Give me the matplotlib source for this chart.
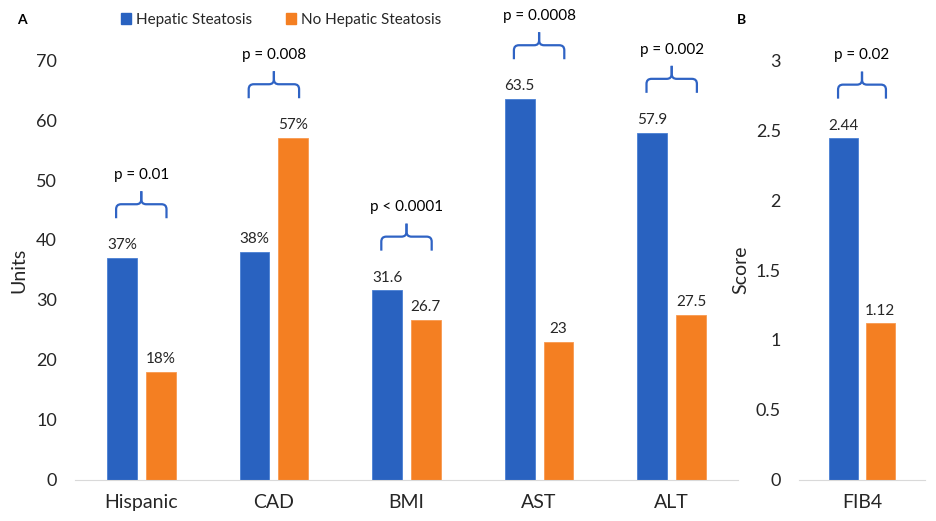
import matplotlib
matplotlib.use("Agg")
import matplotlib.pyplot as plt
from matplotlib.path import Path
from matplotlib.patches import PathPatch, Patch
import numpy as np

plt.rcParams['font.family'] = ['Lato', 'DejaVu Sans']

# Data
categories = ["Hispanic", "CAD", "BMI", "AST", "ALT"]
hs_vals = [37, 38, 31.6, 63.5, 57.9]
no_hs_vals = [18, 57, 26.7, 23, 27.5]
hs_labels = ["37%", "38%", "31.6", "63.5", "57.9"]
no_hs_labels = ["18%", "57%", "26.7", "23", "27.5"]
p_labels = ["p = 0.01", "p = 0.008", "p < 0.0001", "p = 0.0008", "p = 0.002"]

fib_cat = ["FIB4"]
fib_hs = [2.44]
fib_no_hs = [1.12]
fib_hs_labels = ["2.44"]
fib_no_hs_labels = ["1.12"]
fib_p = ["p = 0.02"]

blue = "#2962C0"
orange = "#F47F22"
brace_col = "#2F63C4"
txt_col = "#262626"

W, H, DPI = 937, 521, 100
fig = plt.figure(figsize=(W / DPI, H / DPI), dpi=DPI)

axA = fig.add_axes([75 / W, 41 / H, 663 / W, 420 / H])
axB = fig.add_axes([799 / W, 41 / H, 126 / W, 420 / H])


def brace(ax, xc, y, half):
    # draw an over-brace with rounded corners; sizes in pixels
    pos = ax.get_position()
    x0, x1 = ax.get_xlim()
    y0, y1 = ax.get_ylim()
    ppx = (x1 - x0) / (pos.width * W)
    ppy = (y1 - y0) / (pos.height * H)
    r = 5
    for s in (-1, 1):
        xe = xc + s * half
        verts = [(xe, y - 14 * ppy), (xe, y - r * ppy), (xe, y), (xe - s * r * ppx, y),
                 (xc + s * r * ppx, y), (xc, y), (xc, y + r * ppy), (xc, y + 13 * ppy)]
        codes = [Path.MOVETO, Path.LINETO, Path.CURVE3, Path.CURVE3,
                 Path.LINETO, Path.CURVE3, Path.CURVE3, Path.LINETO]
        ax.add_patch(PathPatch(Path(verts, codes), fill=False, ec=brace_col,
                               lw=1.6, clip_on=False))


def draw_panel(ax, cats, a, b, la, lb, plabs, ymax, step, ylab):
    x = np.arange(len(cats))
    w = 0.224
    off = 0.146
    ax.set_xlim(-0.5, len(cats) - 0.5)
    ax.set_ylim(0, ymax)
    ax.bar(x - off, a, w, color=blue, edgecolor="#4a7fd4", linewidth=0.6)
    ax.bar(x + off, b, w, color=orange, edgecolor="#f89a50", linewidth=0.6)
    for xi, v, t in zip(x - off, a, la):
        ax.annotate(t, (xi, v), xytext=(0, 4), textcoords="offset points",
                    ha="center", va="bottom", fontsize=11, color=txt_col)
    for xi, v, t in zip(x + off, b, lb):
        ax.annotate(t, (xi, v), xytext=(0, 4), textcoords="offset points",
                    ha="center", va="bottom", fontsize=11, color=txt_col)
    for xi, va_, vb, p in zip(x, a, b, plabs):
        yb = max(va_, vb) + 0.128 * ymax
        brace(ax, xi, yb, 0.19)
        ax.annotate(p, (xi, yb), xytext=(0, 16), textcoords="offset points",
                    ha="center", va="bottom", fontsize=11, color="black",
                    annotation_clip=False)
    ax.set_xticks(x)
    ax.set_xticklabels(cats, fontsize=14, color=txt_col)
    ax.set_yticks(np.arange(0, ymax + step / 2, step))
    ax.set_yticklabels([f"{v:g}" for v in np.arange(0, ymax + step / 2, step)],
                       fontsize=13, color=txt_col)
    ax.tick_params(axis="y", length=0, pad=13)
    ax.tick_params(axis="x", length=0, pad=10)
    for s in ["top", "right", "left"]:
        ax.spines[s].set_visible(False)
    ax.spines["bottom"].set_color("#d9d9d9")
    ax.set_ylabel(ylab, fontsize=14, color=txt_col)


draw_panel(axA, categories, hs_vals, no_hs_vals, hs_labels, no_hs_labels,
           p_labels, 70, 10, "Units")
draw_panel(axB, fib_cat, fib_hs, fib_no_hs, fib_hs_labels, fib_no_hs_labels,
           fib_p, 3, 0.5, "Score")
axA.yaxis.set_label_coords(-48 / 663, 0.5)
axB.yaxis.set_label_coords(-50 / 126, 0.5)

fig.text(22 / W, 1 - 20 / H, "A", fontsize=10, fontweight="bold", ha="center", va="center")
fig.text(742 / W, 1 - 20 / H, "B", fontsize=10, fontweight="bold", ha="center", va="center")

handles = [Patch(color=blue, label="Hepatic Steatosis"),
           Patch(color=orange, label="No Hepatic Steatosis")]
fig.legend(handles=handles, loc="center", bbox_to_anchor=(281 / W, 1 - 20 / H), ncol=2,
           frameon=False, fontsize=11, handlelength=0.7, handleheight=0.7,
           handletextpad=0.3, columnspacing=2.2, labelcolor=txt_col)

fig.savefig("out.png", dpi=DPI)
